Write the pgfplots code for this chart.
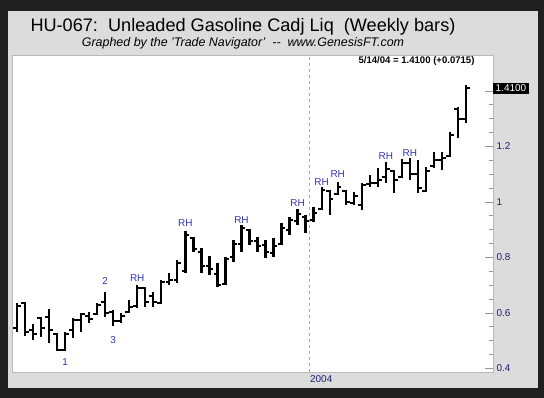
\documentclass[border=0pt]{standalone}
\usepackage{fontspec}
\setmainfont{Liberation Sans}
\usepackage{pgfplots}
\pgfplotsset{compat=1.18}
\usepackage{pgfplotstable}

\definecolor{bgdark}{RGB}{32,32,32}
\definecolor{panel}{RGB}{220,220,220}
\definecolor{annblue}{RGB}{50,50,190}
\definecolor{ticknavy}{RGB}{30,30,120}
\definecolor{framec}{RGB}{185,185,185}

\pgfdeclareplotmark{openl}{\pgfpathmoveto{\pgfqpoint{-3.8bp}{0pt}}\pgfpathlineto{\pgfqpoint{0pt}{0pt}}\pgfusepathqstroke}
\pgfdeclareplotmark{closer}{\pgfpathmoveto{\pgfqpoint{0pt}{0pt}}\pgfpathlineto{\pgfqpoint{3.8bp}{0pt}}\pgfusepathqstroke}

\pgfplotstableread{
x o h l c
0 0.545 0.636 0.532 0.625
1 0.635 0.640 0.517 0.530
2 0.540 0.560 0.503 0.525
3 0.583 0.586 0.514 0.545
4 0.585 0.614 0.492 0.540
5 0.525 0.528 0.463 0.468
6 0.466 0.532 0.463 0.525
7 0.540 0.582 0.510 0.575
8 0.575 0.600 0.532 0.595
9 0.590 0.604 0.564 0.580
10 0.595 0.636 0.593 0.630
11 0.640 0.676 0.586 0.600
12 0.605 0.611 0.553 0.570
13 0.570 0.600 0.564 0.590
14 0.605 0.647 0.600 0.620
15 0.625 0.701 0.618 0.690
16 0.690 0.695 0.620 0.640
17 0.660 0.676 0.621 0.640
18 0.635 0.719 0.632 0.712
19 0.710 0.744 0.701 0.720
20 0.720 0.791 0.708 0.780
21 0.750 0.895 0.744 0.880
22 0.870 0.874 0.820 0.830
23 0.820 0.834 0.744 0.770
24 0.770 0.805 0.737 0.760
25 0.740 0.780 0.693 0.700
26 0.705 0.802 0.701 0.795
27 0.800 0.863 0.784 0.850
28 0.850 0.917 0.820 0.905
29 0.900 0.903 0.845 0.860
30 0.860 0.874 0.820 0.840
31 0.845 0.863 0.798 0.820
32 0.815 0.870 0.802 0.840
33 0.850 0.924 0.845 0.905
34 0.900 0.946 0.881 0.935
35 0.930 0.975 0.917 0.955
36 0.945 0.953 0.888 0.930
37 0.935 0.982 0.928 0.960
38 0.975 1.054 0.971 1.045
39 1.040 1.043 0.953 1.010
40 1.030 1.072 1.025 1.055
41 1.040 1.043 0.989 1.000
42 0.995 1.036 0.989 1.020
43 0.990 1.068 0.971 1.060
44 1.065 1.097 1.054 1.070
45 1.070 1.122 1.054 1.080
46 1.090 1.144 1.068 1.120
47 1.110 1.115 1.032 1.080
48 1.090 1.155 1.086 1.140
49 1.140 1.158 1.079 1.100
50 1.100 1.151 1.032 1.050
51 1.040 1.126 1.036 1.110
52 1.130 1.180 1.122 1.150
53 1.150 1.180 1.115 1.160
54 1.165 1.252 1.162 1.240
55 1.335 1.342 1.230 1.300
56 1.300 1.422 1.285 1.410
}\ohlc

\begin{document}
\begin{tikzpicture}
\path[use as bounding box] (0,0) rectangle (544bp,398bp);
\fill[bgdark] (0,0) rectangle (544bp,398bp);
\fill[panel] (7.5bp,10bp) rectangle (538bp,387bp);
\node[anchor=base, font=\fontsize{18.2}{21}\selectfont, text=black] at (243bp,366.8bp) {HU-067:\ \ Unleaded Gasoline Cadj Liq\ \ (Weekly bars)};
\node[anchor=base, font=\itshape\fontsize{12.5}{14}\selectfont, text=black] at (243bp,351.3bp) {Graphed by the 'Trade Navigator'\ \ -{}-\ \ www.GenesisFT.com};
\begin{axis}[
  at={(12bp,26bp)}, anchor=south west,
  scale only axis, width=481bp, height=317bp,
  xmin=-0.62, xmax=59.37, ymin=0.3874, ymax=1.5297,
  axis background/.style={fill=white},
  axis line style={framec, line width=0.8bp},
  ytick={0.4,0.6,0.8,1,1.2,1.4},
  yticklabels={0.4,0.6,0.8,1,1.2,},
  minor y tick num=3,
  ytick pos=right, yticklabel pos=right,
  tick align=inside,
  major tick length=8bp, minor tick length=4bp,
  y tick style={color=black!40, line width=0.8bp},
  yticklabel style={font=\fontsize{10}{12}\selectfont, text=ticknavy, /pgf/number format/assume math mode=true},
  xtick={36.5}, xticklabels={2004},
  xmajorgrids, x grid style={dash pattern=on 3bp off 3bp, black!35, line width=0.7bp},
  x tick style={draw=none},
  xticklabel style={anchor=north west, xshift=-3bp, font=\fontsize{10}{12}\selectfont, text=ticknavy},
  clip=false,
]
\addplot[draw=none, mark=none, forget plot,
  error bars/.cd, y dir=both, y explicit, error mark=none,
  error bar style={line width=2.3bp, black}]
  table[x=x, y expr={(\thisrow{h}+\thisrow{l})/2}, y error expr={(\thisrow{h}-\thisrow{l})/2}] {\ohlc};
\addplot[only marks, mark=openl, mark options={line width=2bp, black}] table[x=x, y=o] {\ohlc};
\addplot[only marks, mark=closer, mark options={line width=2bp, black}] table[x=x, y=c] {\ohlc};

\begin{scope}[every node/.style={font=\fontsize{10}{12}\selectfont, text=annblue, inner sep=0pt}]
\node at (axis cs:6,0.424) {1};
\node at (axis cs:11,0.715) {2};
\node at (axis cs:12,0.503) {3};
\node at (axis cs:15,0.726) {RH};
\node at (axis cs:21,0.924) {RH};
\node at (axis cs:28,0.935) {RH};
\node at (axis cs:35,0.996) {RH};
\node at (axis cs:38,1.072) {RH};
\node at (axis cs:40,1.101) {RH};
\node at (axis cs:46,1.166) {RH};
\node at (axis cs:49,1.177) {RH};
\end{scope}
\node[anchor=west, fill=black, text=white, font=\fontsize{10}{12}\selectfont, inner xsep=2.5bp, inner ysep=2bp] at (axis cs:59.37,1.41) {1.4100};
\end{axis}
\node[anchor=east, font=\bfseries\fontsize{9.6}{11}\selectfont, text=black] at (478bp,337bp) {5/14/04 = 1.4100 (+0.0715)};
\end{tikzpicture}
\end{document}
